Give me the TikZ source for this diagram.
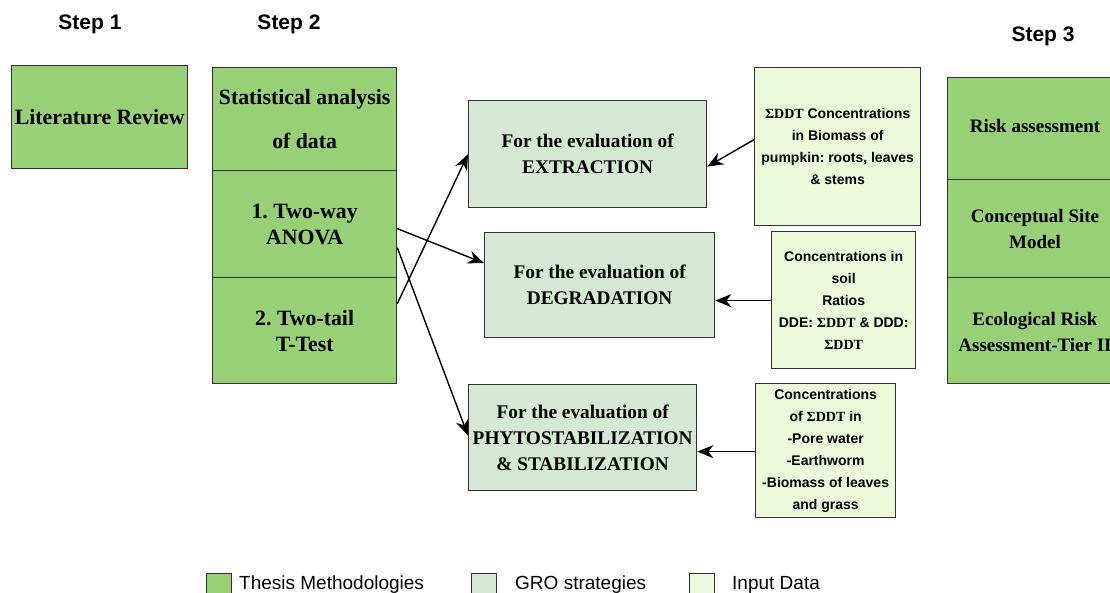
\documentclass[tikz,border=0pt]{standalone}
\usepackage{fontspec}
\setmainfont{Liberation Serif}
\setsansfont{Liberation Sans}
\usetikzlibrary{arrows.meta}
\frenchspacing

\definecolor{thesisgreen}{HTML}{97D077}
\definecolor{grogreen}{HTML}{D5E8D4}
\definecolor{inputgreen}{HTML}{EBF9DA}
\definecolor{edge}{HTML}{333333}

\newcommand{\sddt}{{\rmfamily\bfseries ΣDDT}}

\begin{document}
\begin{tikzpicture}[x=1pt,y=-1pt,
  box/.style={draw=edge, line width=1.3pt, inner sep=0pt, align=center, anchor=north west},
  thesis/.style={box, fill=thesisgreen, font=\rmfamily\bfseries\fontsize{21.8}{26}\selectfont},
  stepthree/.style={box, fill=thesisgreen},
  gro/.style={box, fill=grogreen, font=\rmfamily\bfseries\fontsize{19.3}{26}\selectfont},
  inputbox/.style={box, fill=inputgreen, font=\sffamily\bfseries\fontsize{14}{22}\selectfont},
  steplabel/.style={font=\sffamily\bfseries\fontsize{21}{24}\selectfont},
  stepthreetext/.style={font=\rmfamily\bfseries\fontsize{19}{26}\selectfont, align=center},
  legendkey/.style={draw=edge, line width=1.3pt, anchor=north west, inner sep=0pt, minimum width=25pt, minimum height=30pt},
  legendtext/.style={font=\sffamily\fontsize{19}{22}\selectfont, anchor=west, inner sep=0pt},
  arr/.style={draw=black, line width=1.4pt, -{Stealth[length=16pt,width=13pt,inset=5pt]}}
]
\useasboundingbox (0,0) rectangle (1110,593);
\clip (0,0) rectangle (1110,593);

% step headings
\node[steplabel] (s1) at (90,24) {Step 1};
\node[steplabel] (s2) at (289,24) {Step 2};
\node[steplabel] (s3) at (1043,36) {Step 3};

% step 1
\node[thesis, minimum width=176pt, minimum height=103pt] (lit) at (11,65) {Literature Review};

% step 2 column
\node[thesis, minimum width=184pt, minimum height=103pt, font=\rmfamily\bfseries\fontsize{21.8}{44}\selectfont] (stat) at (212,67) {Statistical analysis\\of data};
\node[thesis, minimum width=184pt, minimum height=107pt] (anova) at (212,170) {1. Two-way\\ANOVA};
\node[thesis, minimum width=184pt, minimum height=106pt] (ttest) at (212,277) {2. Two-tail\\T-Test};

% GRO strategies
\node[gro, minimum width=238pt, minimum height=107pt] (extr) at (468,100) {For the evaluation of\\EXTRACTION};
\node[gro, minimum width=230pt, minimum height=105pt] (degr) at (484,232) {For the evaluation of\\DEGRADATION};
\node[gro, minimum width=228pt, minimum height=106pt] (phyto) at (468,384) {For the evaluation of\\PHYTOSTABILIZATION\\\& STABILIZATION};

% input data
\node[inputbox, minimum width=166pt, minimum height=158pt] (in1) at (754,67) {\sddt{} Concentrations\\in Biomass of\\pumpkin: roots, leaves\\\& stems};
\node[inputbox, minimum width=144pt, minimum height=137pt] (in2) at (771,231) {Concentrations in\\soil\\Ratios\\DDE: \sddt{} \& DDD:\\\sddt};
\node[inputbox, minimum width=140pt, minimum height=134pt] (in3) at (755,383) {Concentrations\\of \sddt{} in\\-Pore water\\-Earthworm\\-Biomass of leaves\\and grass};

% step 3 column (runs past the right edge)
\node[stepthree, minimum width=180pt, minimum height=102pt] (risk) at (947,77) {};
\node[stepthree, minimum width=180pt, minimum height=98pt] (csm) at (947,179) {};
\node[stepthree, minimum width=180pt, minimum height=106pt] (era) at (947,277) {};
\node[stepthreetext] (risklbl) at (1035,126) {Risk assessment};
\node[stepthreetext] (csmlbl) at (1035,229) {Conceptual Site\\Model};
\node[stepthreetext] (eralbl) at (1035,332) {Ecological Risk\\Assessment-Tier II};

% connectors
\draw[arr] ([yshift=27pt]ttest.east) -- (extr.west);
\draw[arr] ([yshift=-4.5pt]anova.east) -- ([yshift=22pt]degr.west);
\draw[arr] ([yshift=-23.5pt]anova.east) -- ([yshift=2pt]phyto.west);
\draw[arr] ([yshift=7pt]in1.west) -- ([yshift=-12.5pt]extr.east);
\draw[arr] ([yshift=-0.5pt]in2.west) -- ([yshift=-15.5pt]degr.east);
\draw[arr] ([yshift=-1pt]in3.west) -- ([yshift=-14pt]phyto.east);

% legend
\node[legendkey, fill=thesisgreen] (k1) at (206,573) {};
\node[legendtext] (t1) at (239,585) {Thesis Methodologies};
\node[legendkey, fill=grogreen] (k2) at (471,573) {};
\node[legendtext] (t2) at (515,585) {GRO strategies};
\node[legendkey, fill=inputgreen] (k3) at (689,573) {};
\node[legendtext] (t3) at (732,585) {Input Data};
\end{tikzpicture}
\end{document}
